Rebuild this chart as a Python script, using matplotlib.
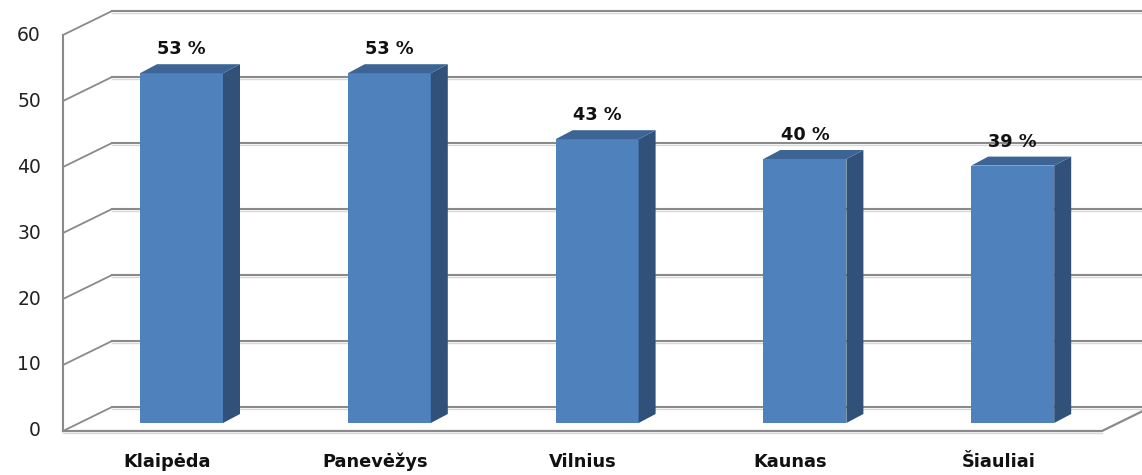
import matplotlib.pyplot as plt
from matplotlib.patches import Polygon

cities = ['Klaipėda', 'Panevėžys', 'Vilnius', 'Kaunas', 'Šiauliai']
shares = [53, 53, 43, 40, 39]
yticks = [0, 10, 20, 30, 40, 50, 60]

fig = plt.figure(figsize=(11.42, 4.75), dpi=100)
ax = fig.add_axes([0, 0, 1, 1])

# scale: one category = 207.8 px, one unit = 6.6 px
sx, sy = 1 / 207.8, 1 / 6.6
ax.set_xlim(-167 * sx, (1142 - 167) * sx)
ax.set_ylim(-(475 - 431) * sy, 431 * sy)
ax.axis('off')

grid_col = '#8a8a8a'
wall_dx, wall_dy = 49 * sx, 24 * sy
x_left = (63 - 167) * sx
x_right = (1102 - 167) * sx
x_end = ax.get_xlim()[1]

# walls and gridlines
ax.plot([x_left, x_left], [0, yticks[-1]], color=grid_col, lw=1.5, zorder=1)
for t in yticks:
    ax.plot([x_left, x_left + wall_dx], [t, t + wall_dy], color=grid_col, lw=1.3, zorder=1)
    ax.plot([x_left + wall_dx, x_end], [t + wall_dy, t + wall_dy], color=grid_col, lw=1.5, zorder=1)
    ax.plot([x_left + wall_dx, x_end], [t + wall_dy - 0.25, t + wall_dy - 0.25],
            color='#d8d8d8', lw=1.0, zorder=1)
    ax.text(x_left - 22 * sx, t, str(t), ha='right', va='center', fontsize=13.5,
            color='#222222')

# floor front edge
ax.plot([x_left, x_right, x_right + wall_dx], [0, 0, wall_dy], color=grid_col, lw=1.6, zorder=1)
ax.plot([x_left, x_right], [-0.25, -0.25], color='#d8d8d8', lw=1.0, zorder=1)

# bars
front_c, side_c, top_c = '#4f81bd', '#32517a', '#3c6595'
off_x, off_y = 14.5 * sx, 8 * sy
w = 83 * sx
ddx, ddy = 17 * sx, 9 * sy
for i, (city, v) in enumerate(zip(cities, shares)):
    xc = i + off_x
    xl, xr = xc - w / 2, xc + w / 2
    b0, top = off_y, off_y + v
    ax.add_patch(Polygon([(xl, b0), (xr, b0), (xr, top), (xl, top)],
                         closed=True, fc=front_c, ec='none', zorder=3))
    ax.add_patch(Polygon([(xr, b0), (xr + ddx, b0 + ddy), (xr + ddx, top + ddy), (xr, top)],
                         closed=True, fc=side_c, ec='none', zorder=3))
    ax.add_patch(Polygon([(xl, top), (xr, top), (xr + ddx, top + ddy), (xl + ddx, top + ddy)],
                         closed=True, fc=top_c, ec='none', zorder=3))
    ax.text(xc, top + 24 * sy, f'{v} %', ha='center', va='center', fontsize=12.8,
            fontweight='bold', color='#111111', zorder=4)
    ax.text(i, -31 * sy, city, ha='center', va='center', fontsize=12.8,
            fontweight='bold', color='#111111')

fig.savefig('out.png', dpi=100)
